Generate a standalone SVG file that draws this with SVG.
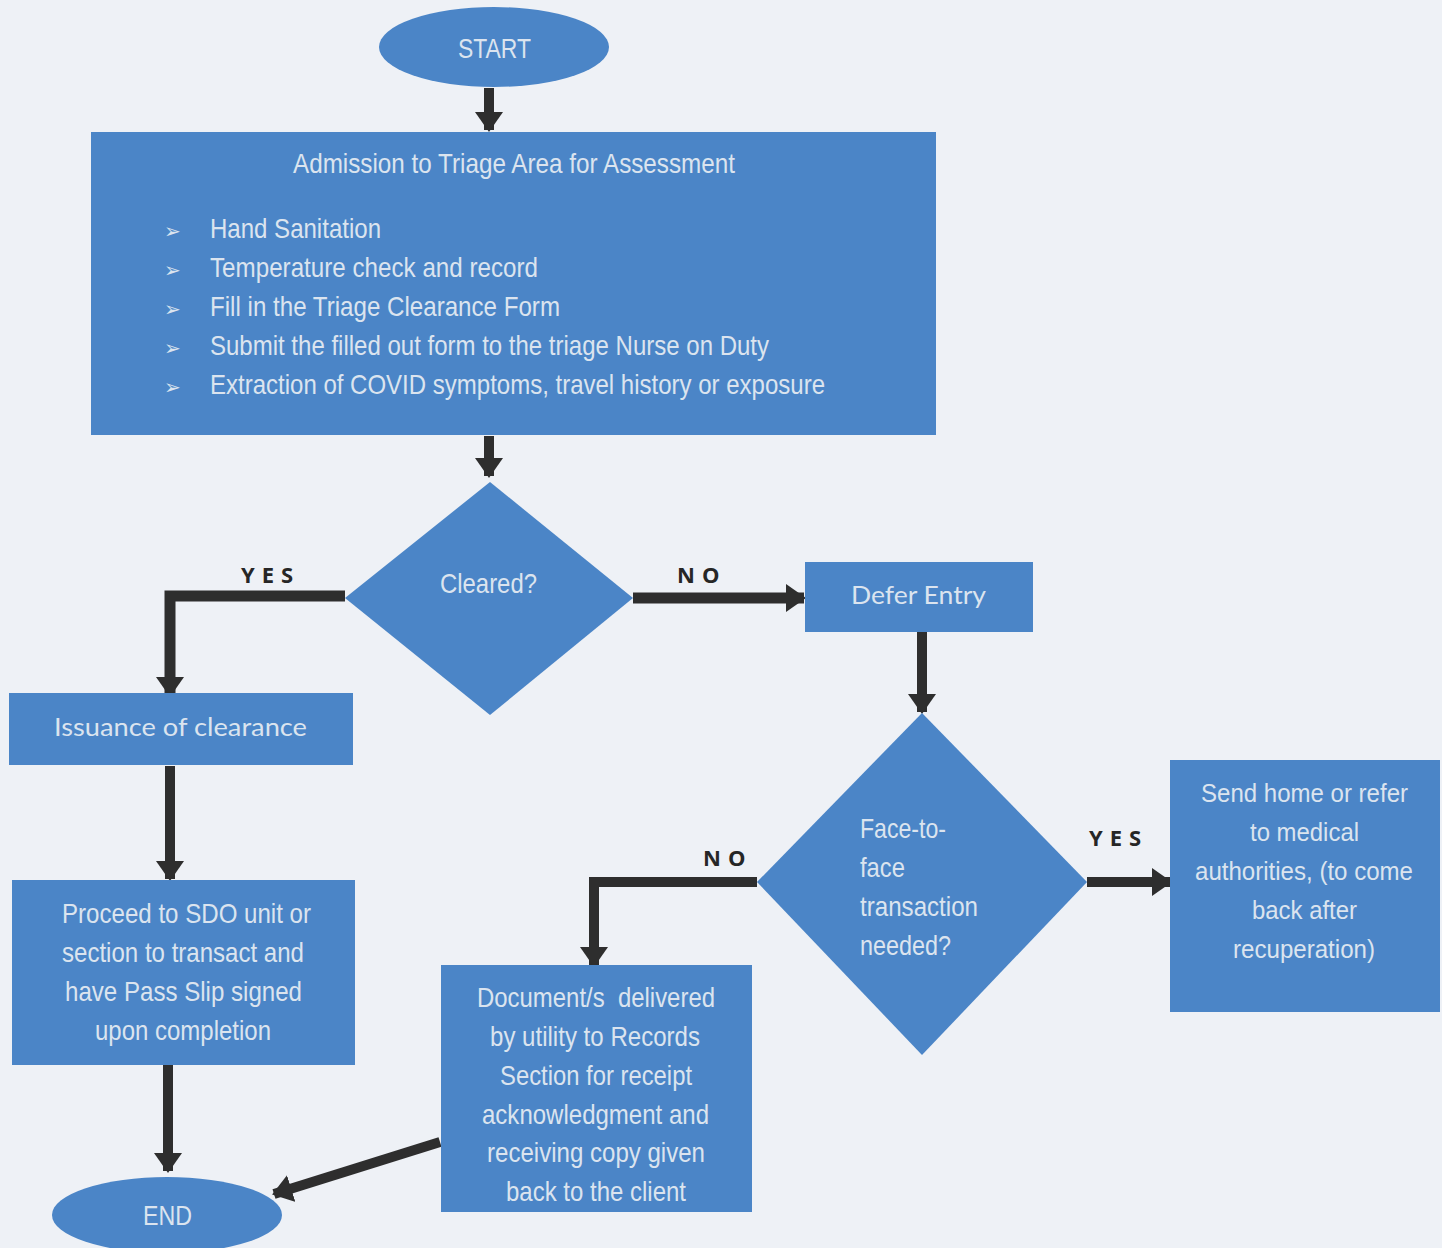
<svg xmlns="http://www.w3.org/2000/svg" width="1442" height="1248" viewBox="0 0 1442 1248">
<defs>
<style>
.bg{fill:#eef1f6}
.n{fill:#4b85c7}
.t{fill:#dbe4ef;font-family:"Liberation Sans",Arial,sans-serif;font-size:28px}
.s{font-size:26px}
.b{fill:#dbe4ef;font-family:"DejaVu Sans",sans-serif;font-size:20px}
.k{fill:#dbe4ef;font-family:"Lato","Open Sans",sans-serif;font-size:25px}
.lbl{fill:#262626;font-family:"Open Sans","DejaVu Sans",sans-serif;font-size:22px;font-weight:bold;letter-spacing:7px}
.e{fill:none;stroke:#2e2e2e;stroke-width:10}
</style>
<marker id="ah" markerUnits="userSpaceOnUse" markerWidth="20" markerHeight="28" refX="18" refY="14" orient="auto" viewBox="0 0 20 28">
<path d="M0,0 L20,14 L0,28 z" fill="#2e2e2e"/>
</marker>
</defs>
<rect class="bg" x="0" y="0" width="1442" height="1248"/>

<g id="connectors">
<path class="e" d="M489,88 V130" marker-end="url(#ah)"/>
<path class="e" d="M489,436 V476" marker-end="url(#ah)"/>
<path class="e" d="M345,596 H170 V695" marker-end="url(#ah)" style="stroke-width:11"/>
<path class="e" d="M633,598 H804" marker-end="url(#ah)" style="stroke-width:11"/>
<path class="e" d="M922,624 V712" marker-end="url(#ah)"/>
<path class="e" d="M1087,882 H1170" marker-end="url(#ah)"/>
<path class="e" d="M757,882 H594 V965" marker-end="url(#ah)"/>
<path class="e" d="M170,766 V879" marker-end="url(#ah)"/>
<path class="e" d="M168,1060 V1171" marker-end="url(#ah)"/>
<path class="e" d="M440,1142 L274,1194" marker-end="url(#ah)"/>
<text class="lbl" x="241" y="583">YES</text>
<text class="lbl" x="677" y="583">NO</text>
<text class="lbl" x="703" y="866">NO</text>
<text class="lbl" x="1089" y="846">YES</text>
</g>

<g id="start">
<ellipse class="n" cx="494" cy="47" rx="115" ry="40"/>
<text class="t" x="458" y="58" textLength="73" lengthAdjust="spacingAndGlyphs">START</text>
</g>

<g id="admission">
<rect class="n" x="91" y="132" width="845" height="303"/>
<text class="t" x="293" y="173" textLength="442" lengthAdjust="spacingAndGlyphs">Admission to Triage Area for Assessment</text>
<g>
<text class="b" x="164" y="238">➢</text>
<text class="b" x="164" y="277">➢</text>
<text class="b" x="164" y="316">➢</text>
<text class="b" x="164" y="355">➢</text>
<text class="b" x="164" y="394">➢</text>
</g>
<text class="t" x="210" y="238" textLength="171" lengthAdjust="spacingAndGlyphs">Hand Sanitation</text>
<text class="t" x="210" y="277" textLength="328" lengthAdjust="spacingAndGlyphs">Temperature check and record</text>
<text class="t" x="210" y="316" textLength="350" lengthAdjust="spacingAndGlyphs">Fill in the Triage Clearance Form</text>
<text class="t" x="210" y="355" textLength="559" lengthAdjust="spacingAndGlyphs">Submit the filled out form to the triage Nurse on Duty</text>
<text class="t" x="210" y="394" textLength="615" lengthAdjust="spacingAndGlyphs">Extraction of COVID symptoms, travel history or exposure</text>
</g>

<g id="cleared">
<polygon class="n" points="490,482 633,598 490,715 345,598"/>
<text class="t" x="440" y="593" textLength="97" lengthAdjust="spacingAndGlyphs">Cleared?</text>
</g>

<g id="defer">
<rect class="n" x="805" y="562" width="228" height="70"/>
<text class="k" x="851" y="604" textLength="135" lengthAdjust="spacingAndGlyphs">Defer Entry</text>
</g>

<g id="issuance">
<rect class="n" x="9" y="693" width="344" height="72"/>
<text class="k" x="54" y="736" textLength="253" lengthAdjust="spacingAndGlyphs">Issuance of clearance</text>
</g>

<g id="proceed">
<rect class="n" x="12" y="880" width="343" height="185"/>
<text class="t" x="62" y="923" textLength="249" lengthAdjust="spacingAndGlyphs">Proceed to SDO unit or</text>
<text class="t" x="62" y="962" textLength="242" lengthAdjust="spacingAndGlyphs">section to transact and</text>
<text class="t" x="65" y="1001" textLength="237" lengthAdjust="spacingAndGlyphs">have Pass Slip signed</text>
<text class="t" x="95" y="1040" textLength="176" lengthAdjust="spacingAndGlyphs">upon completion</text>
</g>

<g id="face">
<polygon class="n" points="922,713 1087,882 922,1055 757,882"/>
<text class="t" x="860" y="838" textLength="86" lengthAdjust="spacingAndGlyphs">Face-to-</text>
<text class="t" x="860" y="877" textLength="45" lengthAdjust="spacingAndGlyphs">face</text>
<text class="t" x="860" y="916" textLength="118" lengthAdjust="spacingAndGlyphs">transaction</text>
<text class="t" x="860" y="955" textLength="91" lengthAdjust="spacingAndGlyphs">needed?</text>
</g>

<g id="sendhome">
<rect class="n" x="1170" y="760" width="270" height="252"/>
<text class="t s" x="1201" y="802" textLength="207" lengthAdjust="spacingAndGlyphs">Send home or refer</text>
<text class="t s" x="1250" y="841" textLength="109" lengthAdjust="spacingAndGlyphs">to medical</text>
<text class="t s" x="1195" y="880" textLength="218" lengthAdjust="spacingAndGlyphs">authorities, (to come</text>
<text class="t s" x="1252" y="919" textLength="105" lengthAdjust="spacingAndGlyphs">back after</text>
<text class="t s" x="1233" y="958" textLength="142" lengthAdjust="spacingAndGlyphs">recuperation)</text>
</g>

<g id="document">
<rect class="n" x="441" y="965" width="311" height="247"/>
<text class="t" x="477" y="1007" textLength="238" lengthAdjust="spacingAndGlyphs">Document/s&#160; delivered</text>
<text class="t" x="490" y="1046" textLength="210" lengthAdjust="spacingAndGlyphs">by utility to Records</text>
<text class="t" x="500" y="1085" textLength="192" lengthAdjust="spacingAndGlyphs">Section for receipt</text>
<text class="t" x="482" y="1124" textLength="227" lengthAdjust="spacingAndGlyphs">acknowledgment and</text>
<text class="t" x="487" y="1162" textLength="218" lengthAdjust="spacingAndGlyphs">receiving copy given</text>
<text class="t" x="506" y="1201" textLength="180" lengthAdjust="spacingAndGlyphs">back to the client</text>
</g>

<g id="end">
<ellipse class="n" cx="167" cy="1215" rx="115" ry="38"/>
<text class="t" x="143" y="1225" textLength="49" lengthAdjust="spacingAndGlyphs">END</text>
</g>
</svg>
